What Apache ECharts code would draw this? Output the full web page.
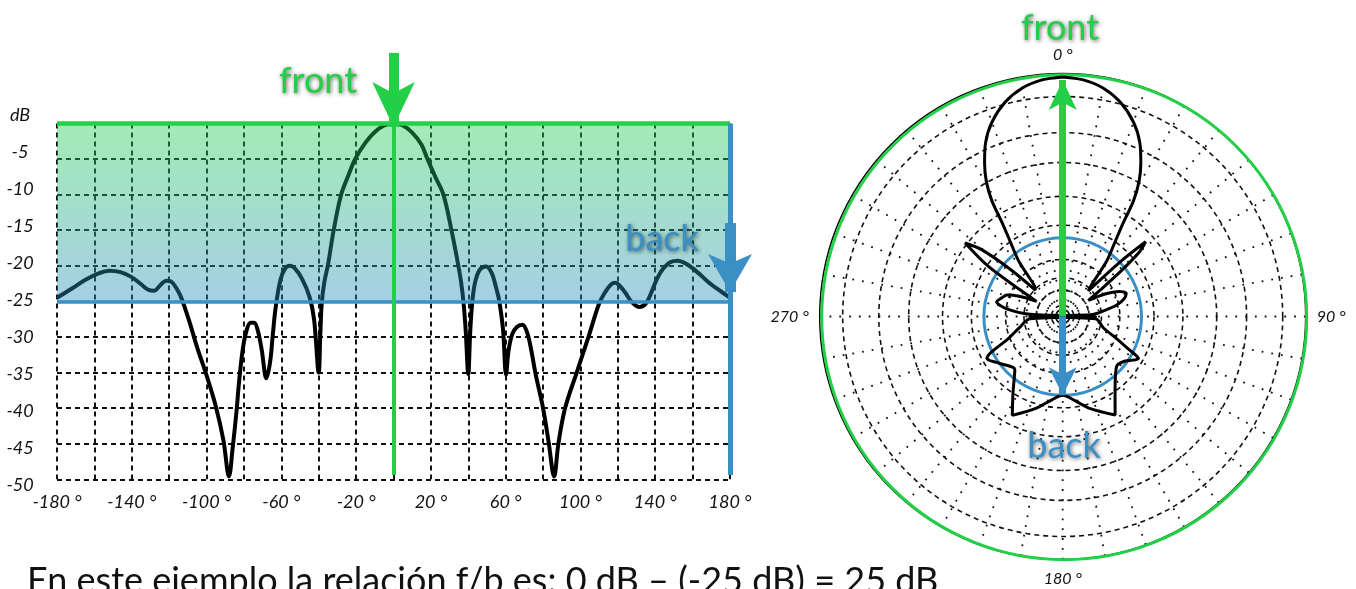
<!DOCTYPE html>
<html><head><meta charset="utf-8">
<script src="https://cdn.jsdelivr.net/npm/echarts@6/dist/echarts.min.js"></script>
<style>html,body{margin:0;padding:0;background:#fff}#chart{width:1356px;height:589px}</style>
</head><body><div id="chart"></div>
<script>
// ---- Data: rectangular pattern (angle in degrees, level in dB) ----
const cartAngles = [-180,-172,-165,-158,-152,-146,-140,-135,-131,-128,-125,-121.5,-119,-116.5,-114,-112,-109,-105,-100,-95,-91,-88,-86,-84,-82.5,-80.5,-78.5,-76.5,-74.5,-72.5,-70.5,-68,-66,-64.5,-63,-60.5,-58,-55.5,-53,-49,-45,-42.5,-40,-39.2,-38.4,-37,-35,-32,-28,-24,-20.5,-15,-10,-5,0,5,10,15,18,22.5,26.7,31,34.7,36.2,37.4,38.6,40,41,42,43.5,46,49.5,52.5,55,56.6,58.6,60.2,61.5,63.5,66,69,71.5,73.5,76,80,83,85.9,88.2,91.8,98,104.3,110,113.5,116.5,118.5,121,124,127.5,131.5,135,138,141,144,148,152,157,163,168,174,180];
const cartLevels = [-24.5,-23.2,-22.0,-21.1,-20.7,-20.9,-21.6,-22.6,-23.4,-23.5,-22.8,-22.1,-22.2,-23.0,-24.2,-25.6,-28.0,-31.5,-35.4,-39.8,-44.5,-49.6,-45.5,-40.5,-36,-31.5,-29.0,-28.0,-28.0,-29.2,-31.8,-35.8,-33.5,-29.5,-25.8,-22.0,-20.4,-20.0,-20.3,-21.8,-24.3,-27.5,-35.0,-30.0,-25.3,-22.3,-19.8,-15.0,-10.0,-7.2,-5.0,-2.7,-1.2,-0.3,0,-0.3,-1.3,-3.0,-4.9,-7.6,-10.0,-15.0,-20.0,-22.4,-25.0,-29.0,-35.2,-29.5,-25.5,-22.5,-20.6,-20.1,-21.0,-23.2,-25.0,-29.0,-35.3,-32.0,-29.6,-28.6,-28.3,-29.4,-31.6,-35.2,-40.0,-44.8,-49.6,-45.0,-40.0,-35.0,-30.0,-25.3,-23.6,-22.6,-22.4,-22.8,-23.8,-25.1,-25.8,-25.3,-23.7,-21.8,-20.5,-19.5,-19.3,-19.8,-21.0,-22.2,-23.4,-24.5];

// ---- Data: polar pattern (angle clockwise from front, level in dB) ----
const polarAngles = [0,5,10,15,20,24,27,29.5,31.5,33,35.5,38.5,42.5,45,46.5,48,50,52,55,58,62,66,70,74,78,82,86,90,94,106,112,116,119,126,133,145,152,164,172,180,188,196,207,213,222,233,241,248,255,266,270,274,278,282.5,287,291,295,300,302,304,307,309.5,312,314,317.5,321.5,324.5,327,328.5,330.5,333,336,340,345,350,355,360];
const polarLevels = [-0.53,-0.84,-1.67,-3.2,-5.5,-8.1,-10.8,-13.4,-16.4,-20.3,-23.6,-26.3,-30.6,-31.5,-24.8,-20.0,-21.8,-25.6,-30.2,-32.4,-29.7,-27.6,-26.7,-27.3,-28.6,-30.6,-32.4,-42.0,-32.0,-30.5,-28.3,-26.1,-23.8,-25.4,-25.8,-23.1,-20.0,-22.5,-24.1,-25.0,-24.1,-22.5,-20.1,-23.1,-26.1,-25.1,-23.8,-28.1,-30.1,-32.0,-42.0,-32.0,-28.3,-26.7,-27.3,-27.9,-29.7,-32.4,-29.4,-23.3,-18.4,-21.0,-26.3,-31.2,-30.6,-26.3,-23.6,-20.3,-16.4,-13.4,-10.8,-8.1,-5.5,-3.2,-1.67,-0.84,-0.53];
const polarRingLevels = [-35.3,-33.0,-31.1,-28.3,-23.1,-18.7,-13.55,-9.0,-3.5];

// ---- Axis / label values ----
const xLabelValues = [-180,-140,-100,-60,-20,20,60,100,140,180];
const polarLabelAngles = [0,90,180,270];
const frontLevel = 0;
const backLevel = -25;
const frontAngle = 0;
const backAngle = 180;

const GREEN = '#22cf46';
const BLUE = '#3a8fc5';
const FONT = 'Lato, "Open Sans", sans-serif';

const chart = echarts.init(document.getElementById('chart'));
const dashGrid = {show: true, lineStyle: {color: '#111', width: 2, type: [5, 4]}};
const solid = (color, width) => ({color: color, width: width, type: 'solid'});
const shadow = {textShadowColor: 'rgba(0,0,0,0.6)', textShadowBlur: 4, textShadowOffsetX: 1, textShadowOffsetY: 1};

const option = {
  animation: false,
  grid: [
    {left: 57, right: 626, top: 123.4, bottom: 109.7},
    {left: 57, right: 626, top: 115, bottom: 104},
    {left: 57, right: 626, top: 52.2, bottom: 109.7}
  ],
  xAxis: [
    {type: 'value', gridIndex: 0, min: -180, max: 180, interval: 20,
     axisLine: {show: false}, axisTick: {show: false}, splitLine: dashGrid,
     axisLabel: {margin: 14, fontFamily: FONT, fontStyle: 'italic', fontSize: 18, color: '#111',
       formatter: v => (xLabelValues.indexOf(v) >= 0 ? v + ' °' : '')}},
    {type: 'value', gridIndex: 1, min: -180, max: 180, show: false},
    {type: 'value', gridIndex: 2, min: -180, max: 180, show: false}
  ],
  yAxis: [
    {type: 'value', gridIndex: 0, min: -50, max: 0, interval: 5,
     axisLine: {show: false}, axisTick: {show: false}, axisLabel: {show: false}, splitLine: dashGrid},
    {type: 'value', gridIndex: 1, min: -50, max: 0, interval: 5,
     axisLine: {show: false}, axisTick: {show: false}, splitLine: {show: false},
     axisLabel: {align: 'center', margin: 37, fontFamily: FONT, fontStyle: 'italic', fontSize: 18, color: '#111',
       formatter: v => (v === 0 ? 'dB' : String(v))}},
    {type: 'value', gridIndex: 2, min: -50, max: 10, show: false}
  ],
  polar: [
    {center: [1062.7, 316.5], radius: 243},
    {center: [1064.2, 317.2], radius: 242.5},
    {center: [1062.7, 316.5], radius: 243}
  ],
  angleAxis: [
    {polarIndex: 0, type: 'value', min: 0, max: 360, interval: 10, startAngle: 90, clockwise: true,
     axisLine: {show: true, lineStyle: {color: '#000', width: 1.5}}, axisTick: {show: false},
     axisLabel: {show: true, margin: 11, fontFamily: FONT, fontStyle: 'italic', fontSize: 16, color: '#111',
       formatter: v => (polarLabelAngles.indexOf(v) >= 0 ? v + ' °' : '')},
     splitLine: {show: true, lineStyle: {color: '#111', width: 1.8, type: [1.8, 8]}}},
    {polarIndex: 1, type: 'value', min: 0, max: 360, startAngle: 90, clockwise: true,
     axisLine: {show: true, lineStyle: {color: GREEN, width: 3}}, axisTick: {show: false},
     axisLabel: {show: false}, splitLine: {show: false}},
    {polarIndex: 2, type: 'value', min: 0, max: 360, startAngle: 90, clockwise: true,
     axisLine: {show: false}, axisTick: {show: false}, axisLabel: {show: false}, splitLine: {show: false}}
  ],
  radiusAxis: [
    {polarIndex: 0, type: 'value', min: -37, max: 0,
     axisLine: {show: false}, axisLabel: {show: false},
     axisTick: {show: false, customValues: polarRingLevels},
     splitLine: {show: true, lineStyle: {color: '#111', width: 1.6, type: [5, 4]}}},
    {polarIndex: 1, type: 'value', min: -37, max: 0,
     axisLine: {show: false}, axisLabel: {show: false}, axisTick: {show: false}, splitLine: {show: false}},
    {polarIndex: 2, type: 'value', min: -37, max: 0,
     axisLine: {show: false}, axisLabel: {show: false},
     axisTick: {show: false, customValues: [backLevel]},
     splitLine: {show: true, lineStyle: solid(BLUE, 3)}}
  ],
  series: [
    {type: 'line', name: 'pattern', xAxisIndex: 0, yAxisIndex: 0, z: 2,
     data: cartAngles.map((a, i) => [a, cartLevels[i]]),
     smooth: 0.35, showSymbol: false, lineStyle: {color: '#000', width: 4}},
    {type: 'line', name: 'band', xAxisIndex: 0, yAxisIndex: 0, data: [],
     markArea: {silent: true, z: 3,
       itemStyle: {color: {type: 'linear', x: 0, y: 0, x2: 0, y2: 1, colorStops: [
         {offset: 0, color: 'rgba(34,207,80,0.42)'}, {offset: 1, color: 'rgba(40,140,190,0.42)'}]}},
       data: [[{xAxis: -180, yAxis: frontLevel}, {xAxis: 180, yAxis: backLevel}]]}},
    {type: 'line', name: 'marks', xAxisIndex: 2, yAxisIndex: 2, data: [], clip: false,
     markLine: {silent: true, z: 5, symbol: ['none', 'none'], label: {show: false},
       data: [
         {yAxis: frontLevel, lineStyle: solid(GREEN, 4.5)},
         {yAxis: backLevel, lineStyle: solid(BLUE, 3.5)},
         [{coord: [frontAngle, frontLevel], lineStyle: solid(GREEN, 4)}, {coord: [frontAngle, -49.4]}],
         [{coord: [backAngle, frontLevel], lineStyle: solid(BLUE, 5)}, {coord: [backAngle, -49.4]}],
         [{coord: [frontAngle, 9.9], lineStyle: solid(GREEN, 10)}, {coord: [frontAngle, -0.5], symbol: 'arrow', symbolSize: [32, 45]}],
         [{coord: [backAngle, -14], lineStyle: solid(BLUE, 11)}, {coord: [backAngle, -23.7], symbol: 'arrow', symbolSize: [33, 38]}]
       ]}},
    {type: 'line', name: 'polar pattern', coordinateSystem: 'polar', polarIndex: 0, z: 2, clip: false,
     data: polarAngles.map((a, i) => [polarLevels[i], a]),
     smooth: 0.3, showSymbol: false, lineStyle: {color: '#000', width: 3}},
    {type: 'line', name: 'polar marks', coordinateSystem: 'polar', polarIndex: 0, data: [], clip: false,
     markLine: {silent: true, z: 5, symbol: ['none', 'none'], label: {show: false},
       data: [
         [{coord: [-37, frontAngle], lineStyle: solid(GREEN, 7)}, {coord: [-1.0, frontAngle], symbol: 'arrow', symbolSize: [21, 30]}],
         [{coord: [-37, backAngle], lineStyle: solid(BLUE, 7)}, {coord: [backLevel, backAngle], symbol: 'arrow', symbolSize: [21, 28]}]
       ]}}
  ],
  graphic: [
    {type: 'text', x: 318, y: 81, z: 100, style: Object.assign({text: 'front', font: '36px ' + FONT, fill: GREEN, textAlign: 'center', textVerticalAlign: 'middle'}, shadow)},
    {type: 'text', x: 662, y: 239, z: 100, style: Object.assign({text: 'back', font: '36px ' + FONT, fill: BLUE, textAlign: 'center', textVerticalAlign: 'middle'}, shadow)},
    {type: 'text', x: 1060, y: 28, z: 100, style: Object.assign({text: 'front', font: '36px ' + FONT, fill: GREEN, textAlign: 'center', textVerticalAlign: 'middle'}, shadow)},
    {type: 'text', x: 1064, y: 446, z: 100, style: Object.assign({text: 'back', font: '36px ' + FONT, fill: BLUE, textAlign: 'center', textVerticalAlign: 'middle'}, shadow)},
    {type: 'text', x: 27, y: 563, z: 100, style: {text: 'En este ejemplo la relación f/b es: 0 dB – (-25 dB) = 25 dB', font: '36px ' + FONT, fill: '#111', textAlign: 'left', textVerticalAlign: 'top'}}
  ]
};
chart.setOption(option);
</script>
</body></html>
